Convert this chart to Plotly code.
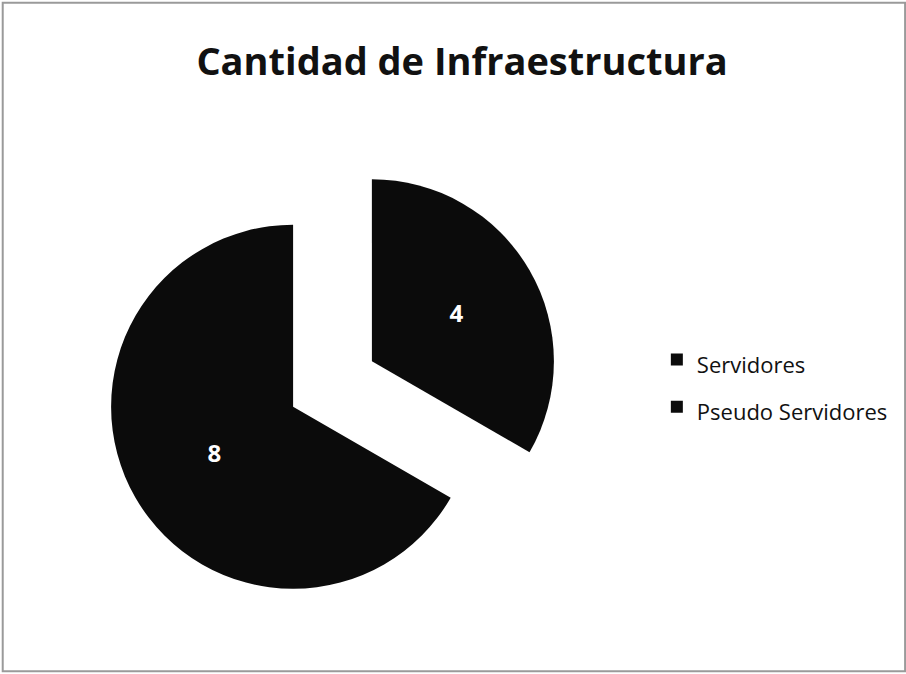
import plotly.graph_objects as go

categories = ["Servidores", "Pseudo Servidores"]
values = [4, 8]
colors = ["#0b0b0b", "#0b0b0b"]
pulls = [0.25, 0.25]

# legend entries drawn at 22px inside a taller legend line (Excel-like spacing)
legend_labels = [f"<span style='font-size:22px'>{c}</span>" for c in categories]

fig = go.Figure(
    go.Pie(
        labels=legend_labels,
        values=values,
        sort=False,
        direction="clockwise",
        rotation=0,
        pull=pulls,
        marker=dict(colors=colors, line=dict(width=0)),
        textinfo="value",
        textposition="inside",
        insidetextorientation="horizontal",
        textfont=dict(color="white", size=24, family="Open Sans", weight="bold"),
        domain=dict(x=[0.1159, 0.6181], y=[0.0927, 0.7678]),
        hoverinfo="label+value",
    )
)

fig.update_layout(
    width=906,
    height=674,
    margin=dict(l=0, r=0, t=0, b=0),
    paper_bgcolor="white",
    plot_bgcolor="white",
    title=dict(
        text="<b>Cantidad de Infraestructura</b>",
        x=0.51,
        xanchor="center",
        y=0.908,
        yanchor="middle",
        font=dict(family="Open Sans", size=38, color="#111111"),
    ),
    legend=dict(
        x=0.725,
        y=0.431,
        xanchor="left",
        yanchor="middle",
        font=dict(family="Open Sans", size=34, color="#111111"),
        itemwidth=30,
    ),
    shapes=[
        dict(
            type="rect",
            xref="paper",
            yref="paper",
            x0=0.003,
            x1=0.999,
            y0=0.004,
            y1=0.996,
            line=dict(color="#9a9a9a", width=2),
        )
    ],
)

fig.write_html("out.html")
